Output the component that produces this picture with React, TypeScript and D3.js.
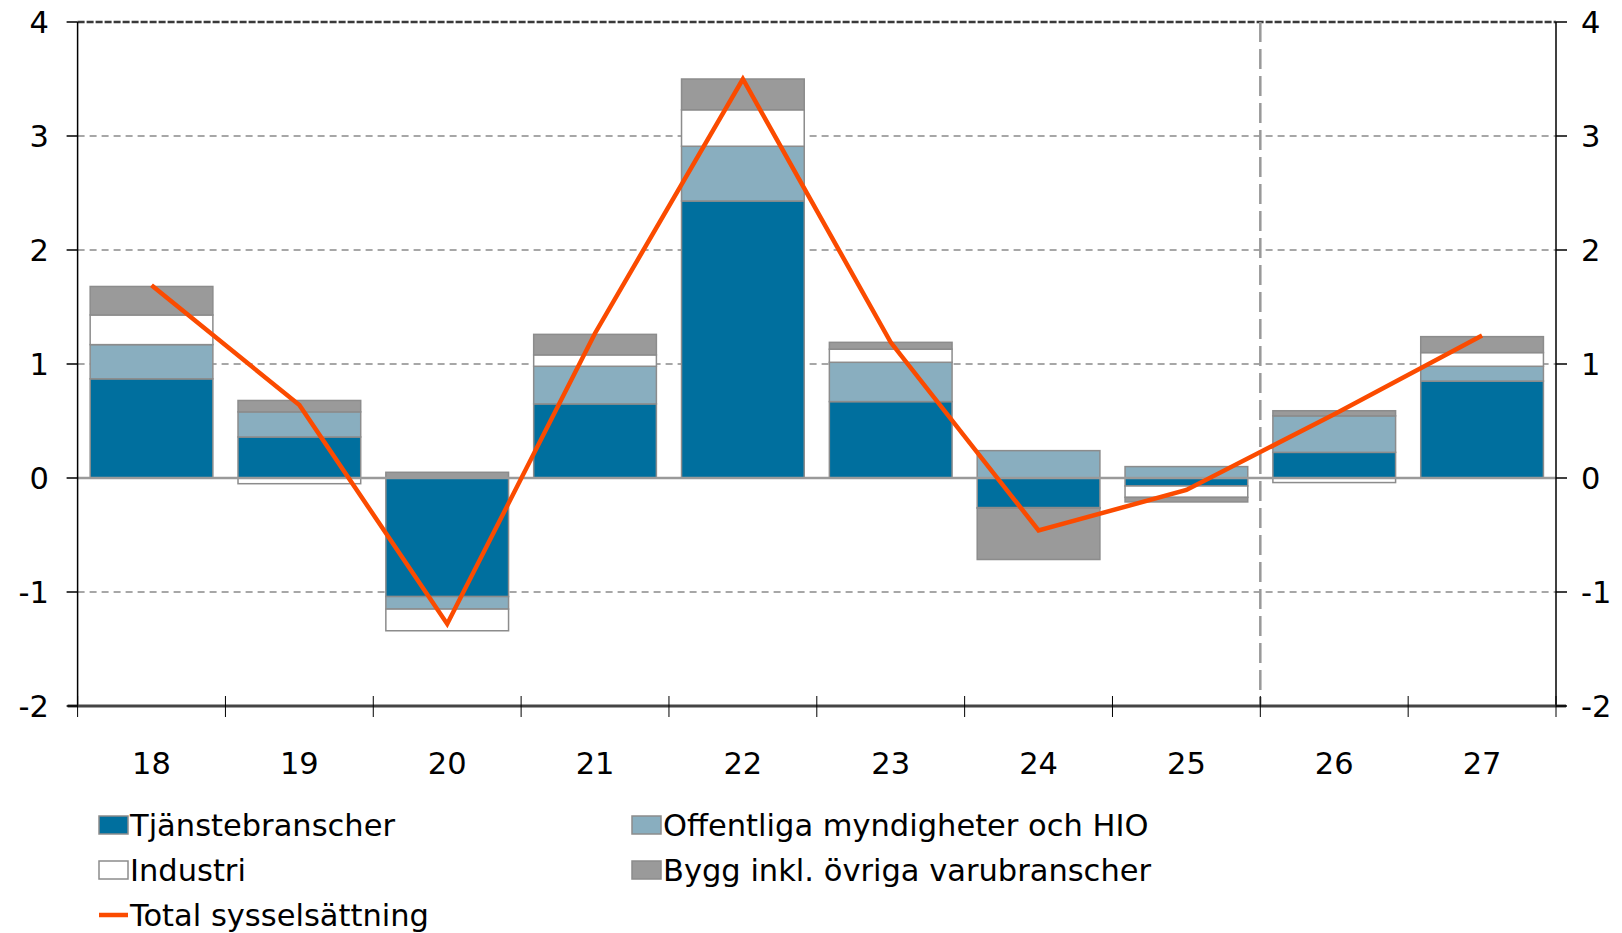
import React from "react";
import * as d3 from "d3";

const years = ["18", "19", "20", "21", "22", "23", "24", "25", "26", "27"];
const tjanste = [0.87, 0.36, -1.04, 0.65, 2.43, 0.67, -0.26, -0.07, 0.225, 0.85];
const offentliga = [0.3, 0.22, -0.11, 0.33, 0.48, 0.345, 0.24, 0.1, 0.32, 0.13];
const industri = [0.26, -0.05, -0.19, 0.1, 0.32, 0.115, -0.005, -0.1, -0.04, 0.12];
const bygg = [0.25, 0.1, 0.05, 0.18, 0.27, 0.06, -0.45, -0.04, 0.045, 0.14];
const total = [1.69, 0.64, -1.28, 1.27, 3.5, 1.19, -0.46, -0.105, 0.56, 1.25];
const yTicks = [-2, -1, 0, 1, 2, 3, 4];

const seriesNames = [
  "Tjänstebranscher",
  "Offentliga myndigheter och HIO",
  "Industri",
  "Bygg inkl. övriga varubranscher",
];
const seriesColors = ["#006f9e", "#89aebf", "#ffffff", "#9a9a9a"];
const seriesData = [tjanste, offentliga, industri, bygg];
const lineName = "Total sysselsättning";
const lineColor = "#fb4b00";

const W = 1622;
const H = 933;
const left = 77.6;
const right = 1556;
const top = 22;
const bottom = 706;
const FONT = "DejaVu Sans, Verdana, sans-serif";
const FS = 30.5;

export default function App() {
  const x = d3.scaleBand<string>().domain(years).range([left, right]).paddingInner(0.17).paddingOuter(0.085);
  const xb = d3.scaleBand<string>().domain(years).range([left, right]);
  const y = d3.scaleLinear().domain([-2, 4]).range([bottom, top]);

  const table = years.map((yr, i) => {
    const o: any = { year: yr };
    seriesNames.forEach((n, k) => (o[n] = seriesData[k][i]));
    return o;
  });
  const stack = d3.stack<any>().keys(seriesNames).offset(d3.stackOffsetDiverging);
  const stacked = stack(table);

  const line = d3
    .line<number>()
    .x((_, i) => (xb(years[i]) as number) + xb.bandwidth() / 2)
    .y((d) => y(d));

  const forecastX = xb("26") as number;

  return (
    <svg width={W} height={H} style={{ position: "absolute", left: 0, top: 0, background: "#fff" }}>
      {yTicks
        .filter((t) => t !== 0 && t !== 4 && t !== -2)
        .map((t) => (
          <line key={t} x1={left} x2={right} y1={y(t)} y2={y(t)} stroke="#8a8a8a" strokeWidth={1.5} strokeDasharray="7,5" />
        ))}
      <line x1={left} x2={right} y1={y(4)} y2={y(4)} stroke="#3a3a3a" strokeWidth={2.5} strokeDasharray="7,2" />
      {stacked.map((s, k) =>
        s.map((d, i) => {
          const y0 = y(d[0]);
          const y1 = y(d[1]);
          if (Math.abs(y0 - y1) < 0.01) return null;
          return (
            <rect
              key={k + "-" + i}
              x={x(years[i])}
              width={x.bandwidth()}
              y={Math.min(y0, y1)}
              height={Math.abs(y0 - y1)}
              fill={seriesColors[k]}
              stroke="#8c8c8c"
              strokeWidth={1.5}
            />
          );
        })
      )}
      <line x1={left} x2={right} y1={y(0)} y2={y(0)} stroke="#9a9a9a" strokeWidth={2.5} />
      <line x1={forecastX} x2={forecastX} y1={top} y2={bottom} stroke="#999" strokeWidth={2.5} strokeDasharray="20,7" />
      <path d={line(total) || ""} fill="none" stroke={lineColor} strokeWidth={4.5} strokeLinejoin="miter" />
      <line x1={left} x2={left} y1={top} y2={bottom} stroke="#000" strokeWidth={1.5} />
      <line x1={right} x2={right} y1={top} y2={bottom} stroke="#000" strokeWidth={1.5} />
      <line x1={left - 10} x2={right + 10} y1={y(-2)} y2={y(-2)} stroke="#444" strokeWidth={3} />
      {yTicks.map((t) => (
        <g key={"yt" + t}>
          <line x1={left - 11} x2={left} y1={y(t)} y2={y(t)} stroke="#000" strokeWidth={1.5} />
          <line x1={right} x2={right + 11} y1={y(t)} y2={y(t)} stroke="#000" strokeWidth={1.5} />
          <text x={49} y={y(t)} dy="0.36em" textAnchor="end" fontFamily={FONT} fontSize={FS}>
            {t}
          </text>
          <text x={1581} y={y(t)} dy="0.36em" textAnchor="start" fontFamily={FONT} fontSize={FS}>
            {t}
          </text>
        </g>
      ))}
      {years.map((yr) => (
        <line key={"xt" + yr} x1={xb(yr)} x2={xb(yr)} y1={bottom - 10} y2={bottom + 11} stroke="#000" strokeWidth={1} />
      ))}
      <line x1={right} x2={right} y1={bottom - 10} y2={bottom + 11} stroke="#000" strokeWidth={1} />
      {years.map((yr) => (
        <text
          key={"xl" + yr}
          x={(xb(yr) as number) + xb.bandwidth() / 2}
          y={763}
          dy="0.36em"
          textAnchor="middle"
          fontFamily={FONT}
          fontSize={FS}
        >
          {yr}
        </text>
      ))}
      {seriesNames.map((n, k) => {
        const col = k % 2;
        const row = Math.floor(k / 2);
        const lx = col === 0 ? 99 : 632;
        const ly = 825 + row * 45;
        return (
          <g key={"lg" + k}>
            <rect x={lx} y={ly - 9} width={29} height={18} fill={seriesColors[k]} stroke="#8c8c8c" strokeWidth={1.5} />
            <text x={lx + 31} y={ly} dy="0.36em" fontFamily={FONT} fontSize={FS}>
              {n}
            </text>
          </g>
        );
      })}
      <g>
        <line x1={99} x2={128} y1={915} y2={915} stroke={lineColor} strokeWidth={4.5} />
        <text x={130} y={915} dy="0.36em" fontFamily={FONT} fontSize={FS}>
          {lineName}
        </text>
      </g>
    </svg>
  );
}
